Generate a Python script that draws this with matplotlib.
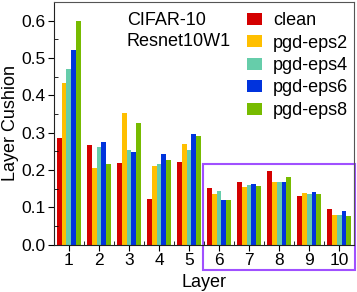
import numpy as np
import matplotlib.pyplot as plt
from matplotlib.patches import Rectangle
from matplotlib.ticker import MultipleLocator

plt.rcParams['font.family'] = ['Liberation Sans', 'DejaVu Sans']

layers = [1, 2, 3, 4, 5, 6, 7, 8, 9, 10]
series = ['clean', 'pgd-eps2', 'pgd-eps4', 'pgd-eps6', 'pgd-eps8']
clean = [0.286, 0.266, 0.220, 0.122, 0.222, 0.152, 0.167, 0.197, 0.131, 0.096]
eps2 = [0.432, 0.206, 0.353, 0.210, 0.270, 0.136, 0.155, 0.168, 0.138, 0.079]
eps4 = [0.471, 0.262, 0.253, 0.217, 0.253, 0.143, 0.160, 0.168, 0.136, 0.079]
eps6 = [0.521, 0.274, 0.249, 0.242, 0.296, 0.121, 0.163, 0.168, 0.141, 0.090]
eps8 = [0.598, 0.216, 0.325, 0.228, 0.291, 0.121, 0.158, 0.181, 0.136, 0.077]
colors = ['#D40000', '#FFBF00', '#66CDAA', '#0033DD', '#77BB00']

fig = plt.figure(figsize=(3.57, 2.92), dpi=100)
ax = fig.add_axes([0.151, 0.162, 0.841, 0.831])

x = np.array(layers)
w = 0.162
for i, (name, vals) in enumerate(zip(series, [clean, eps2, eps4, eps6, eps8])):
    ax.bar(x + (i - 2) * w, vals, width=w, color=colors[i], label=name)

ax.set_xlim(0.5, 10.5)
ax.set_ylim(0, 0.65)
ax.set_xticks(layers)
ax.yaxis.set_major_locator(MultipleLocator(0.1))
ax.yaxis.set_minor_locator(MultipleLocator(0.05))
ax.xaxis.set_minor_locator(MultipleLocator(0.5))
ax.tick_params(which='major', direction='out', length=4, labelsize=12.5, pad=2)
ax.tick_params(which='minor', direction='in', length=3)
for s in ax.spines.values():
    s.set_color('#555555')
ax.spines['left'].set_color('#222222')
ax.spines['bottom'].set_color('#222222')

ax.set_xlabel('Layer', fontsize=13, labelpad=4.5)
ax.set_ylabel('Layer Cushion', fontsize=13, labelpad=2)

ax.text(0.243, 0.88, 'CIFAR-10\nResnet10W1', transform=ax.transAxes,
        fontsize=13, va='center', ha='left', linespacing=1.27)

ax.legend(loc='upper left', bbox_to_anchor=(0.643, 0.958), frameon=False,
          fontsize=13, borderpad=0, borderaxespad=0, handlelength=0.83,
          handleheight=0.65, labelspacing=0.3, handletextpad=0.6)

rect = Rectangle((5.48, -0.068), 5.05, 0.2845, fill=False, edgecolor='#A050FF',
                 linewidth=1.5, clip_on=False)
ax.add_patch(rect)

fig.savefig('out.png', dpi=100)
